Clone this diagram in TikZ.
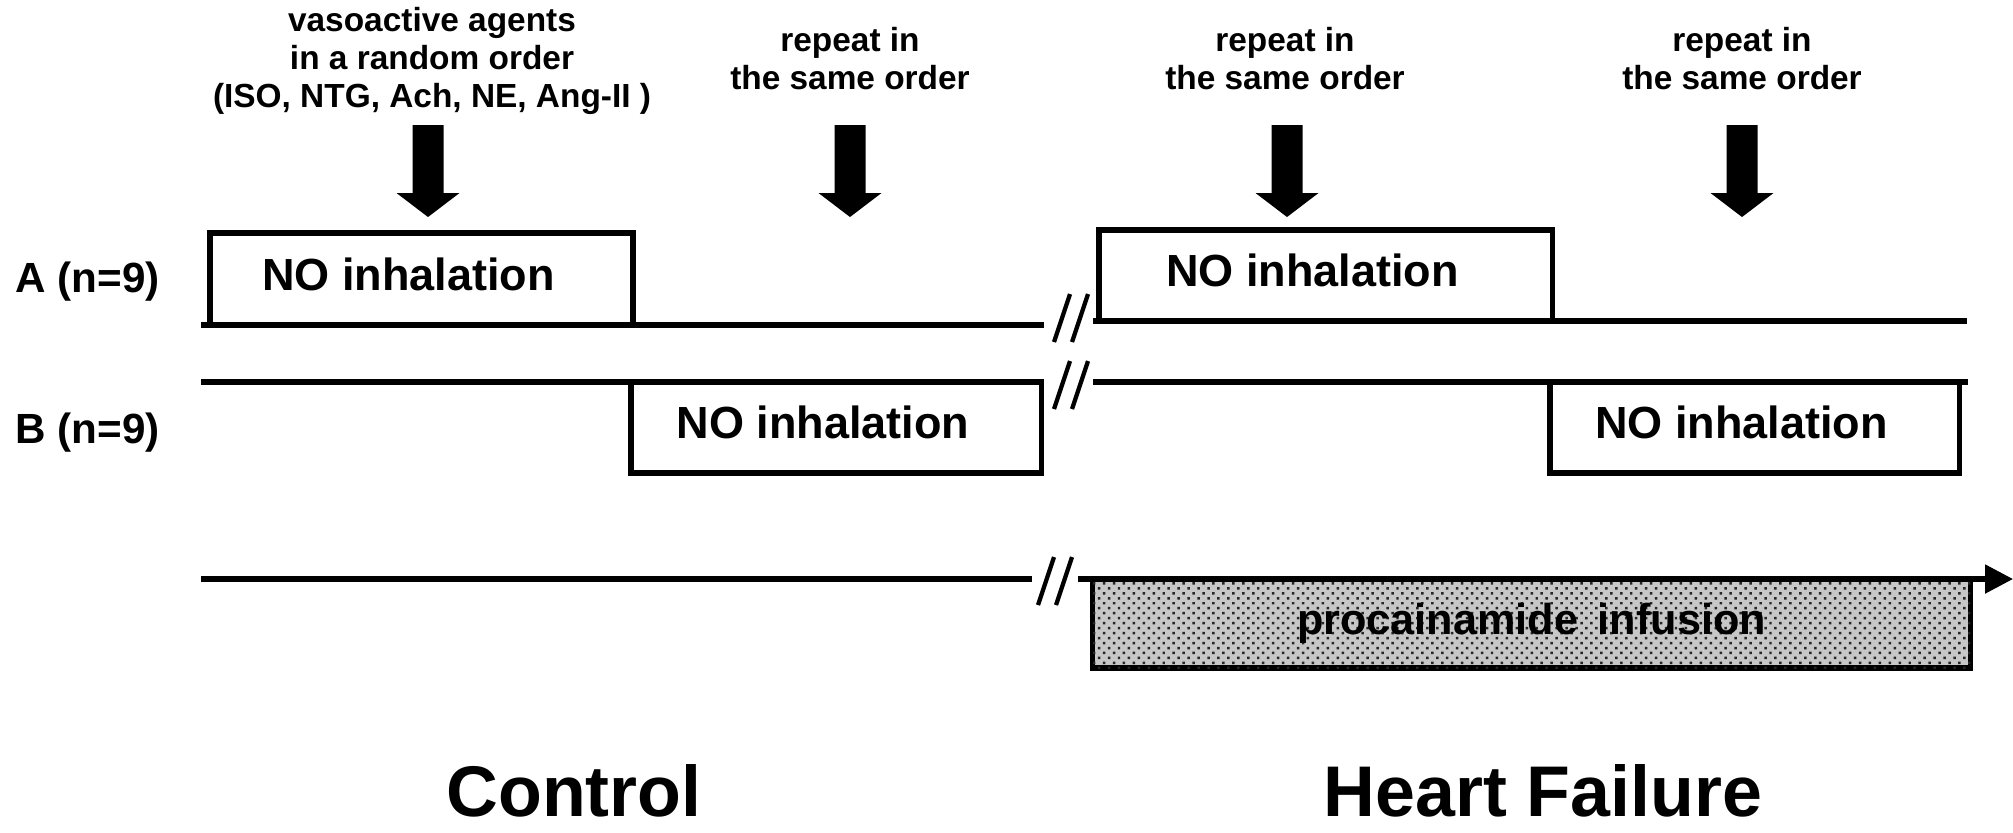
\documentclass[tikz,border=0pt]{standalone}
\usepackage{fontspec}
\setmainfont{Liberation Sans}
\usetikzlibrary{positioning,arrows.meta,patterns.meta}

\begin{document}
\begin{tikzpicture}[
    x=0.01cm, y=-0.01cm,
    box/.style={rectangle, draw, line width=1.5pt, inner sep=0pt},
    boxtext/.style={font=\fontsize{12.8}{15}\selectfont\bfseries},
    timeline/.style={line width=1.5pt},
    brk/.style={line width=1.2pt},
    note/.style={align=center, font=\fontsize{9.5}{10.8}\selectfont\bfseries},
    group/.style={anchor=west, inner sep=0pt, font=\fontsize{12}{14}\selectfont\bfseries},
    phase/.style={anchor=base, inner sep=0pt, font=\fontsize{20.4}{24}\selectfont\bfseries}
]
\useasboundingbox (0,0) rectangle (2013,832);

% Timeline ends
\coordinate (aL) at (201,325);
\coordinate (aM) at (1044,325);
\coordinate (aN) at (1093,321);
\coordinate (aR) at (1967,321);
\coordinate (bL) at (201,382);
\coordinate (bM) at (1042,382);
\coordinate (bN) at (1093,382);
\coordinate (bR) at (1968,382);
\coordinate (cL) at (201,579);
\coordinate (cM) at (1032,579);
\coordinate (cN) at (1078,579);
\coordinate (cR) at (2013,579);

% Timelines
\draw[timeline] (aL) -- (aM);
\draw[timeline] (aN) -- (aR);
\draw[timeline] (bL) -- (bM);
\draw[timeline] (bN) -- (bR);
\draw[timeline] (cL) -- (cM);

% Inhalation periods
\node[box, minimum width=4.23cm, minimum height=0.92cm,
      label={[boxtext, xshift=-0.13cm, yshift=0.05cm]center:NO inhalation}] (a1) at (421.5,279) {};
\node[box, minimum width=4.53cm, minimum height=0.91cm,
      label={[boxtext, xshift=-0.13cm, yshift=0.05cm]center:NO inhalation}] (a2) at (1325.5,275.5) {};
\node[box, minimum width=4.10cm, minimum height=0.91cm,
      label={[boxtext, xshift=-0.13cm, yshift=0.05cm]center:NO inhalation}] (b1) at (836,427.5) {};
\node[box, minimum width=4.09cm, minimum height=0.91cm,
      label={[boxtext, xshift=-0.13cm, yshift=0.05cm]center:NO inhalation}] (b2) at (1754.5,427.5) {};

% Infusion
\node[box, fill=black!22, postaction={pattern={Dots[distance=2pt, radius=0.5pt, angle=45]}, pattern color=black!85},
      minimum width=8.77cm, minimum height=0.89cm, font=\fontsize{12.3}{15}\selectfont\bfseries] (proc) at (1531.5,623.5)
      {procainamide\hspace{0.45em}infusion};
\draw[timeline, -{Triangle[length=0.28cm, width=0.28cm]}] (cN) -- (cR);

% Breaks
\foreach \bx/\by in {1054/342, 1054/409, 1038/605}
  \draw[brk] (\bx,\by) -- ++(16,-48) (\bx+18,\by) -- ++(16,-48);

% Block arrows
\foreach \ax in {428,850,1287,1742}
  \fill (\ax-15.5,125) -- (\ax+15.5,125) -- (\ax+15.5,193) -- (\ax+31.5,193)
        -- (\ax,217) -- (\ax-31.5,193) -- (\ax-15.5,193) -- cycle;

% Labels
\node[note] (agents) at (432,61) {vasoactive agents\\in a random order\\ (ISO, NTG, Ach, NE, Ang-II )};
\node[note] (rep1) at (850,58.5) {repeat in\\the same order};
\node[note] (rep2) at (1285,58.5) {repeat in\\the same order};
\node[note] (rep3) at (1742,58.5) {repeat in\\the same order};

\node[group] (grpA) at (15,282) {A (n=9)};
\node[group] (grpB) at (15,433) {B (n=9)};

\node[phase] (ctrl) at (574,816) {Control};
\node[phase] (hf) at (1543,816) {Heart Failure};

\end{tikzpicture}
\end{document}
